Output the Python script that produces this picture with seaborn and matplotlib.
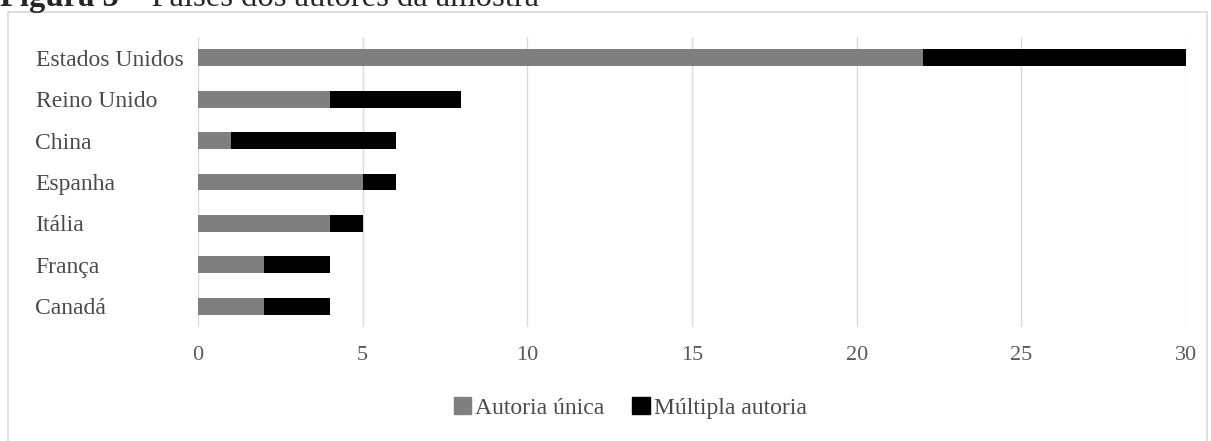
import numpy as np
import pandas as pd
import matplotlib
matplotlib.use("Agg")
import matplotlib.pyplot as plt
import matplotlib.patches as mpatches
import seaborn as sns

# data
paises = ["Estados Unidos", "Reino Unido", "China", "Espanha", "Itália", "França", "Canadá"]
autoria_unica = [22, 4, 1, 5, 4, 2, 2]
multipla_autoria = [8, 4, 5, 1, 1, 2, 2]
x_ticks = [0, 5, 10, 15, 20, 25, 30]

GRAY = "#7f7f7f"
BLACK = "#000000"

sns.set_style("white")
plt.rcParams['font.family'] = ['Liberation Serif', 'DejaVu Serif']

df = pd.DataFrame({
    "pais": paises,
    "unica": autoria_unica,
    "multipla": multipla_autoria,
})
df["total"] = df["unica"] + df["multipla"]

W, H = 1211, 441
fig = plt.figure(figsize=(W / 100, H / 100), dpi=100)
ax = fig.add_axes([198 / W, 1 - 327 / H, (1186 - 198) / W, (327 - 37) / H])

# chart frame
fig.patches.append(mpatches.Rectangle((8 / W, -0.05), (1207 - 8) / W, 1.05 - 12 / H,
                                      transform=fig.transFigure, fill=False,
                                      edgecolor="#d9d9d9", linewidth=1.2))

# stacked bars: total in black, single authorship in gray over it
sns.barplot(data=df, x="total", y="pais", order=paises, color=BLACK,
            width=0.41, orient="h", ax=ax, zorder=3, linewidth=0)
sns.barplot(data=df, x="unica", y="pais", order=paises, color=GRAY,
            width=0.41, orient="h", ax=ax, zorder=4, linewidth=0)
for p in ax.patches:
    p.set_alpha(1)

ax.set_xlim(0, 30)
ax.set_xticks(x_ticks)
ax.set_xticklabels([str(t) for t in x_ticks])
ax.set_xlabel("")
ax.set_ylabel("")
ax.grid(axis="x", color="#d9d9d9", linewidth=1, zorder=0)
ax.set_axisbelow(True)
for s in ax.spines.values():
    s.set_visible(False)

ax.tick_params(axis="x", length=0, pad=14, labelsize=16, labelcolor="#595959")
ax.tick_params(axis="y", length=0, pad=117, labelsize=17, labelcolor="#4a4a4a")
for lbl in ax.get_yticklabels():
    lbl.set_ha("left")

handles = [mpatches.Patch(color=GRAY, label="Autoria única"),
           mpatches.Patch(color=BLACK, label="Múltipla autoria")]
fig.legend(handles=handles, loc="center", bbox_to_anchor=(630 / W, 1 - 408 / H),
           ncol=2, frameon=False, fontsize=17, handlelength=0.75, handleheight=0.75,
           handletextpad=0.15, columnspacing=1.2, labelcolor="#4a4a4a")

# title, cut at the top like in the source
t1 = fig.text(0.0, 1 - 6 / H, "Figura 5", fontsize=23.5, fontweight="bold",
              va="baseline", ha="left")
fig.canvas.draw()
bb = t1.get_window_extent()
fig.text(bb.x1 / W, 1 - 6 / H, " – Países dos autores da amostra", fontsize=23.5,
         va="baseline", ha="left")

fig.savefig("out.png", dpi=100, facecolor="white")
